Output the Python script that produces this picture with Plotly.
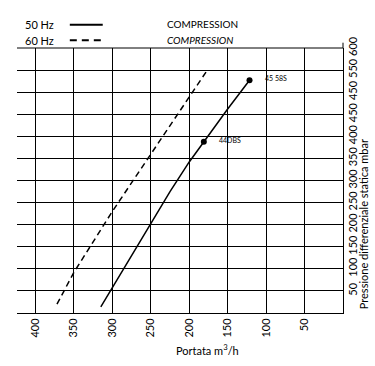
import plotly.graph_objects as go

# Data
flow_50 = [315, 300, 250, 225, 200, 181, 150, 121.6]
pres_50 = [14, 58, 204, 275, 342, 388, 462, 527]
flow_60 = [372, 350, 300, 250, 200, 178]
pres_60 = [20, 92, 230, 360, 490, 546]
dot_flow = [181, 121.6]
dot_pres = [388, 527]
dot_labels = ["44DBS", "45 58S"]

x_ticks = [400, 350, 300, 250, 200, 150, 100, 50]
x_ticktext = ["400", "350", "300", "250", "200", "150", "100", "50"]
y_ticks = [50, 100, 150, 200, 250, 300, 350, 400, 450, 500, 550, 600]
y_ticktext = ["50", "100", "150", "200", "250", "300", "350", "400", "450", "450", "550", "600"]

FONT = "Lato"

fig = go.Figure()
fig.add_trace(go.Scatter(x=flow_50, y=pres_50, mode="lines",
                         line=dict(color="black", width=1.5),
                         showlegend=False, hoverinfo="skip"))
fig.add_trace(go.Scatter(x=flow_60, y=pres_60, mode="lines",
                         line=dict(color="black", width=1.5, dash="6px,4px"),
                         showlegend=False, hoverinfo="skip"))
fig.add_trace(go.Scatter(x=dot_flow, y=dot_pres, mode="markers",
                         marker=dict(color="black", size=6, symbol="circle"),
                         showlegend=False, hoverinfo="skip"))

for fx, py, lab in zip(dot_flow, dot_pres, dot_labels):
    fig.add_annotation(x=fx, y=py, text=lab, showarrow=False, xanchor="left",
                       xshift=13, yshift=2, font=dict(family=FONT, size=7, color="black"))

fig.update_layout(
    width=375, height=366,
    margin=dict(l=17, r=32, t=48, b=53),
    paper_bgcolor="white", plot_bgcolor="white",
    font=dict(family=FONT, size=11, color="black"),
    xaxis=dict(range=[424, 0], tickvals=x_ticks, ticktext=x_ticktext,
               tickangle=-90, showgrid=True, gridcolor="black", gridwidth=1,
               zeroline=False, showline=True, linecolor="black", linewidth=1,
               ticks="", fixedrange=True, automargin=False),
    yaxis=dict(range=[0, 600], tickvals=y_ticks, ticktext=y_ticktext, side="right",
               tickangle=-90, showgrid=True, gridcolor="black", gridwidth=1,
               zeroline=False, showline=True, linecolor="black", linewidth=1,
               mirror=False, ticks="", fixedrange=True, automargin=False),
)

# top border line and right axis extension above top
fig.add_shape(type="line", xref="paper", yref="paper", x0=0, x1=1, y0=1, y1=1,
              line=dict(color="black", width=1))
fig.add_shape(type="line", xref="paper", yref="paper", x0=1, x1=1, y0=1, y1=1.02,
              line=dict(color="black", width=1))

# legend keys
fig.add_annotation(xref="paper", yref="paper", x=0.119, y=1.088, text="50 Hz", showarrow=False,
                   xanchor="right", yanchor="middle", font=dict(family=FONT, size=11))
fig.add_annotation(xref="paper", yref="paper", x=0.119, y=1.029, text="60 Hz", showarrow=False,
                   xanchor="right", yanchor="middle", font=dict(family=FONT, size=11))
fig.add_shape(type="line", xref="paper", yref="paper", x0=0.162, x1=0.263, y0=1.088, y1=1.088,
              line=dict(color="black", width=2))
fig.add_shape(type="line", xref="paper", yref="paper", x0=0.162, x1=0.263, y0=1.029, y1=1.029,
              line=dict(color="black", width=2, dash="7px,5px"))
fig.add_annotation(xref="paper", yref="paper", x=0.454, y=1.091, text="COMPRESSION", showarrow=False,
                   xanchor="left", yanchor="middle", font=dict(family=FONT, size=10))
fig.add_annotation(xref="paper", yref="paper", x=0.454, y=1.031, text="<i>COMPRESSION</i>", showarrow=False,
                   xanchor="left", yanchor="middle", font=dict(family=FONT, size=10))

# axis titles
fig.add_annotation(xref="paper", yref="paper", x=0.583, y=-0.138, text="Portata m<sup>3</sup>/h",
                   showarrow=False, xanchor="center", yanchor="middle", font=dict(family=FONT, size=11))
fig.add_annotation(xref="paper", yref="paper", x=1, xshift=20, y=0.335,
                   text="Pressione differenziale statica mbar", textangle=-90,
                   showarrow=False, xanchor="center", yanchor="middle", font=dict(family=FONT, size=11))

fig.write_html("out.html", config={"displayModeBar": False},
               post_script="document.body.style.margin='0';")
